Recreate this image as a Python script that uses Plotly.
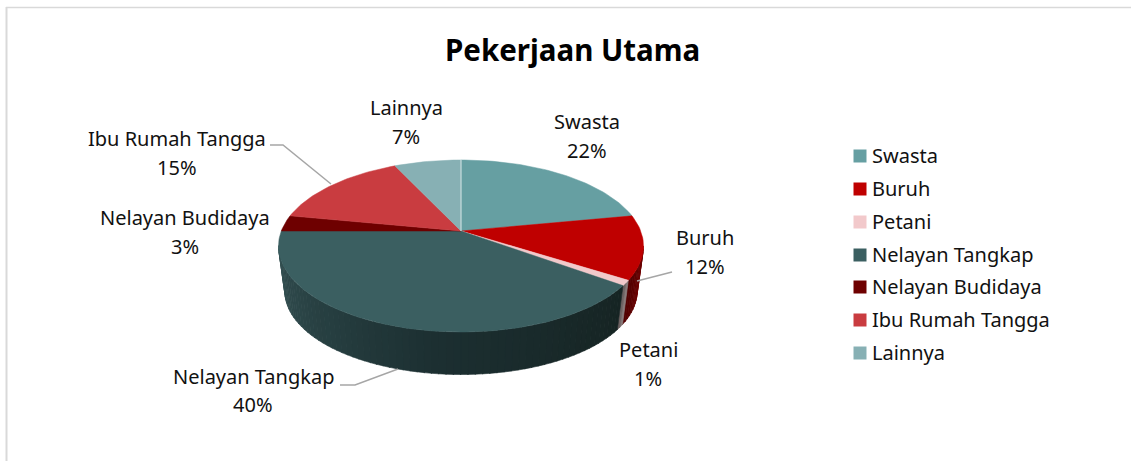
import math
import plotly.graph_objects as go

categories = ["Swasta", "Buruh", "Petani", "Nelayan Tangkap", "Nelayan Budidaya", "Ibu Rumah Tangga", "Lainnya"]
values = [22, 12, 1, 40, 3, 15, 7]
top_colors = ["#669fa2", "#bf0000", "#f2c9cb", "#3b5f61", "#6e0000", "#c93c40", "#87b0b4"]
chart_title = "Pekerjaan Utama"

# label anchors (centre x, first line y, second line y)
label_pos = [(587, 121, 150), (705, 237, 266), (648, 349, 378), (253, 376, 404),
             (185, 217, 246), (177, 138, 167), (406, 107, 136)]
legend_y = [155, 188, 221, 254, 286, 319, 352]
legend_marker_y = [156, 189, 222, 255, 287, 320, 353]
leaders = [([637, 672], [281, 272]), ([340, 355, 398], [385, 385, 369]), ([270, 283, 331], [145, 145, 184])]

FONT = "Noto Sans"
SIZE = 20
CX, CY, A, B, K = 461, 231, 179.7, 83.4, 0.1744
SCALE, DROP = 0.965, 46


def rim(deg):
    t = math.radians(deg)
    u, v = math.sin(t), math.cos(t)
    d = 1 + K * v
    return CX + A * u / d, CY - B * v / d


def rim_low(deg):
    x, y = rim(deg)
    return CX + SCALE * (x - CX), CY + DROP + SCALE * (y - CY)


def mix(c1, c2, f):
    return "#" + "".join(f"{round(a + (b - a) * f):02x}" for a, b in zip(c1, c2))


side_shades = {
    1: [(0, (120, 0, 0)), (1, (80, 0, 0))],
    2: [(0, (150, 135, 135)), (1, (95, 85, 85))],
    3: [(0, (22, 36, 35)), (0.45, (28, 47, 49)), (0.7, (38, 62, 64)), (1, (52, 80, 82))],
}


def shade(i, f):
    stops = side_shades[i]
    for (p0, c0), (p1, c1) in zip(stops, stops[1:]):
        if f <= p1:
            return mix(c0, c1, (f - p0) / (p1 - p0))
    return mix(stops[-1][1], stops[-1][1], 0)


fig = go.Figure()
edges = [0]
for v in values:
    edges.append(edges[-1] + v / sum(values) * 360)

# visible outer wall, split across the angular range of each slice
wall_from, wall_to = 100.0, 260.0
for i in (1, 2, 3):
    a0, a1 = max(edges[i], wall_from), min(edges[i + 1], wall_to)
    n = max(2, int((a1 - a0) / 2))
    for j in range(n):
        d0 = a0 + (a1 - a0) * j / n
        d1 = a0 + (a1 - a0) * (j + 1) / n + 0.2
        sub = [d0 + (d1 - d0) * q / 3 for q in range(4)]
        pts = [rim(d) for d in sub] + [rim_low(d) for d in reversed(sub)]
        xs = [p[0] for p in pts] + [pts[0][0]]
        ys = [p[1] for p in pts] + [pts[0][1]]
        col = shade(i, (j + 0.5) / n)
        fig.add_trace(go.Scatter(x=xs, y=ys, mode="lines", fill="toself", fillcolor=col,
                                 line=dict(color=col, width=0.6), hoverinfo="skip", showlegend=False))

# top face
for i, col in enumerate(top_colors):
    n = max(4, int((edges[i + 1] - edges[i]) / 1.5))
    pts = [rim(edges[i] + (edges[i + 1] - edges[i]) * q / n) for q in range(n + 1)]
    xs = [CX] + [p[0] for p in pts] + [CX]
    ys = [CY] + [p[1] for p in pts] + [CY]
    fig.add_trace(go.Scatter(x=xs, y=ys, mode="lines", fill="toself", fillcolor=col,
                             line=dict(color=col, width=0.5), hoverinfo="text", text=categories[i],
                             showlegend=False))

# pale seam at twelve o'clock
x0, y0 = rim(0)
fig.add_trace(go.Scatter(x=[CX, x0], y=[CY, y0], mode="lines", line=dict(color="#d5e6e6", width=1),
                         hoverinfo="skip", showlegend=False))

# leader lines
for lx, ly in leaders:
    fig.add_trace(go.Scatter(x=lx, y=ly, mode="lines", line=dict(color="#a6a6a6", width=1.5),
                             hoverinfo="skip", showlegend=False))

# legend
for cat, col, ly, my in zip(categories, top_colors, legend_y, legend_marker_y):
    fig.add_trace(go.Scatter(x=[860], y=[my], mode="markers", marker=dict(symbol="square", size=13, color=col),
                             name=cat, hoverinfo="name", showlegend=False))
    fig.add_annotation(x=870, y=ly, text=cat, showarrow=False, xanchor="left", yanchor="middle",
                       font=dict(family=FONT, size=SIZE, color="#111111"))

# slice labels
for cat, val, (lx, y1, y2) in zip(categories, values, label_pos):
    fig.add_annotation(x=lx, y=y1, text=cat, showarrow=False, font=dict(family=FONT, size=SIZE, color="#111111"))
    fig.add_annotation(x=lx, y=y2, text=f"{val}%", showarrow=False, font=dict(family=FONT, size=SIZE, color="#111111"))

fig.add_annotation(x=572, y=49, text=f"<b>{chart_title}</b>", showarrow=False,
                   font=dict(family=FONT, size=29.5, color="#000000"))

# outer frame
fig.add_shape(type="line", xref="paper", yref="paper", x0=6 / 1131, x1=1, y0=1 - 7.5 / 461, y1=1 - 7.5 / 461,
              line=dict(color="#d9d9d9", width=1.5))
fig.add_shape(type="line", xref="paper", yref="paper", x0=6.5 / 1131, x1=6.5 / 1131, y0=0, y1=1 - 7 / 461,
              line=dict(color="#d9d9d9", width=2))

fig.update_layout(width=1131, height=461, margin=dict(l=0, r=0, t=0, b=0), showlegend=False,
                  paper_bgcolor="white", plot_bgcolor="white",
                  xaxis=dict(range=[0, 1131], visible=False, fixedrange=True),
                  yaxis=dict(range=[461, 0], visible=False, fixedrange=True))
fig.write_html("out.html", config=dict(displayModeBar=False),
               post_script="document.body.style.margin='0';document.body.style.overflow='hidden';")
